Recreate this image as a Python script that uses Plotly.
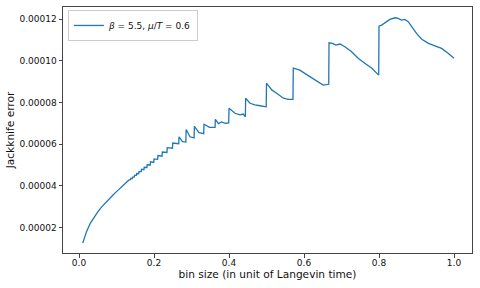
import plotly.graph_objects as go

# bin size (in unit of Langevin time)
bin_size = [
    0.01, 0.02, 0.03, 0.04, 0.05, 0.06, 0.07, 0.08, 0.09, 0.10, 0.11, 0.12, 0.13,
    0.1325, 0.1333, 0.1371, 0.1379, 0.1421, 0.1429, 0.1473, 0.1481,
    0.1530, 0.1538, 0.1592, 0.1600, 0.1659, 0.1667, 0.1731, 0.1739,
    0.1810, 0.1818, 0.1897, 0.1905, 0.1992, 0.2000, 0.2097, 0.2105,
    0.2214, 0.2222, 0.2345, 0.2353, 0.2492, 0.2500,
    0.2659, 0.2667, 0.276,
    0.2849, 0.2857, 0.296,
    0.3069, 0.3077, 0.320,
    0.3325, 0.3333, 0.348,
    0.3628, 0.3636, 0.372, 0.380, 0.390,
    0.3992, 0.4000, 0.416, 0.429, 0.438,
    0.4436, 0.4444, 0.456, 0.469, 0.483,
    0.4992, 0.5000, 0.514, 0.527, 0.545, 0.558,
    0.5706, 0.5714, 0.589, 0.603, 0.616, 0.629, 0.643, 0.651,
    0.6659, 0.6667, 0.676, 0.685, 0.696, 0.709, 0.727, 0.745, 0.763, 0.781,
    0.7992, 0.8000, 0.807, 0.816, 0.829, 0.843, 0.851, 0.860, 0.869, 0.878,
    0.887, 0.900, 0.914, 0.932, 0.949, 0.967, 0.985, 1.000,
]

# Jackknife error, in units of 1e-5
jk_error_e5 = [
    1.25, 1.80, 2.20, 2.50, 2.75, 2.98, 3.18, 3.38, 3.55, 3.72, 3.88, 4.04, 4.18,
    4.22, 4.28, 4.29, 4.35, 4.35, 4.42, 4.42, 4.50,
    4.50, 4.59, 4.58, 4.68, 4.68, 4.79, 4.77, 4.89,
    4.88, 5.01, 5.00, 5.15, 5.12, 5.29, 5.27, 5.45,
    5.42, 5.62, 5.60, 5.83, 5.80, 6.05,
    6.02, 6.35, 6.12,
    6.10, 6.70, 6.35,
    6.30, 6.85, 6.55,
    6.50, 6.95, 6.80,
    6.80, 7.19, 6.98, 7.06, 7.00,
    7.02, 7.72, 7.48, 7.40, 7.44,
    7.31, 8.20, 7.96, 7.88, 7.84,
    7.79, 8.92, 8.60, 8.44, 8.20, 8.15,
    8.15, 9.64, 9.55, 9.38, 9.23, 9.07, 8.92, 8.83,
    8.87, 10.86, 10.83, 10.75, 10.80, 10.67, 10.43, 10.11, 9.87, 9.64,
    9.31, 11.66, 11.71, 11.82, 11.98, 12.06, 12.03, 11.95, 11.98, 11.87,
    11.63, 11.31, 11.03, 10.83, 10.71, 10.59, 10.35, 10.12,
]

x_ticks = [0.0, 0.2, 0.4, 0.6, 0.8, 1.0]
x_tick_labels = ["0.0", "0.2", "0.4", "0.6", "0.8", "1.0"]
y_ticks = [2e-5, 4e-5, 6e-5, 8e-5, 10e-5, 12e-5]
y_tick_labels = ["0.00002", "0.00004", "0.00006", "0.00008", "0.00010", "0.00012"]

series_name = "<i>β</i> = 5.5, <i>μ</i>/<i>T</i> = 0.6"

jk_error = [v * 1e-5 for v in jk_error_e5]

fig = go.Figure()
fig.add_trace(go.Scatter(
    x=bin_size, y=jk_error, mode="lines", name=series_name,
    line=dict(color="#1f77b4", width=1.3),
))

axis_common = dict(
    showline=True, mirror=True, linecolor="#444", linewidth=1,
    ticks="outside", ticklen=3.5, tickwidth=1, tickcolor="#444",
    showgrid=False, zeroline=False,
    tickfont=dict(size=9, color="#111"),
)

fig.update_layout(
    width=480, height=288,
    margin=dict(l=63, r=8, t=7, b=35),
    paper_bgcolor="white", plot_bgcolor="white",
    font=dict(family="DejaVu Sans", color="#111"),
    showlegend=True,
    legend=dict(
        x=0.012, y=0.988, xanchor="left", yanchor="top",
        bordercolor="#cccccc", borderwidth=1, bgcolor="rgba(255,255,255,0.8)",
        font=dict(size=9), itemwidth=30,
    ),
    xaxis=dict(
        range=[-0.0427, 1.048], tickvals=x_ticks, ticktext=x_tick_labels,
        ticklabelstandoff=-2,
        title=dict(text="bin size (in unit of Langevin time)", font=dict(size=10.6), standoff=2),
        **axis_common,
    ),
    yaxis=dict(
        range=[0.777e-5, 1.2576e-4], tickvals=y_ticks, ticktext=y_tick_labels,
        title=dict(text="Jackknife error", font=dict(size=10.6), standoff=2),
        **axis_common,
    ),
)

fig.write_html(
    "out.html",
    config={"displayModeBar": False},
    post_script="document.body.style.margin='0';document.body.style.padding='0';",
)
